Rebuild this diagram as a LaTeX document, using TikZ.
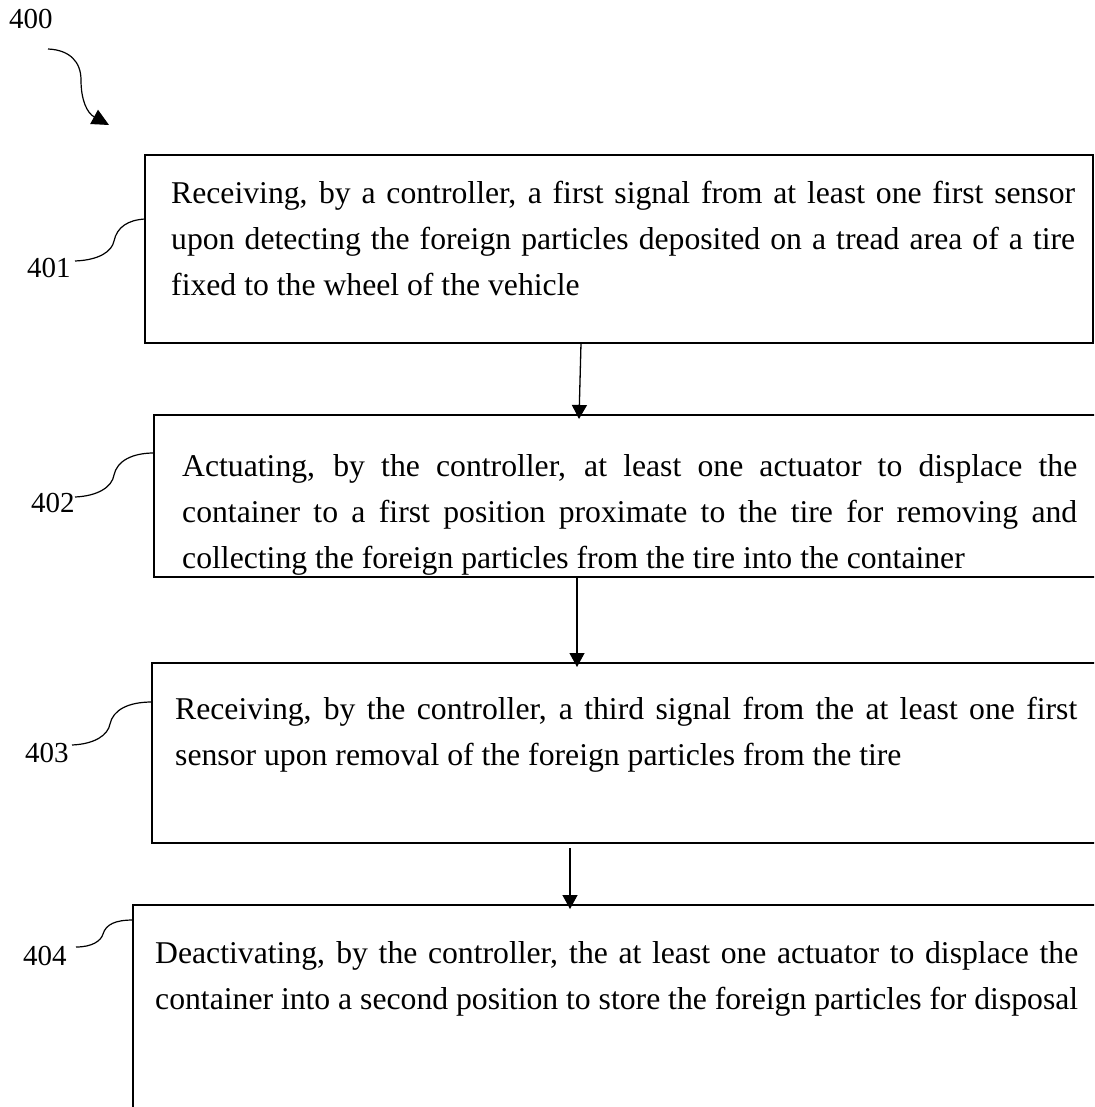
\documentclass[tikz,border=0pt]{standalone}
\usepackage{fontspec}
\setmainfont{Liberation Serif}
\usetikzlibrary{arrows.meta}
\tikzset{
 box/.style={draw, line width=2.8pt, inner sep=0pt, outer sep=0pt, anchor=north west},
 flow/.style={line width=1.3pt, -{Triangle[length=14pt,width=15pt]}},
 leader/.style={line width=1.2pt},
 lbl/.style={anchor=base west, inner sep=0pt, font=\fontsize{29}{34}\selectfont},
 body/.style={anchor=base west, inner sep=0pt, font=\fontsize{31.7}{46}\selectfont},
}
\newcommand{\jline}[2]{\makebox[#1][s]{#2}}
\begin{document}
\begin{tikzpicture}[x=1pt,y=-1pt]
\fill[white] (0,0) rectangle (1094,1107);
\clip (0,0) rectangle (1094,1107);

% boxes
\node[box, minimum width=948pt, minimum height=188pt] (b1) at (145,155) {};
\node[box, minimum width=960pt, minimum height=162pt] (b2) at (154,415) {};
\node[box, minimum width=960pt, minimum height=180pt] (b3) at (152,663) {};
\node[box, minimum width=980pt, minimum height=230pt] (b4) at (133,905) {};

% texts
\node[body] (t1) at (171,204) {\parbox[t]{904pt}{%
\jline{904pt}{Receiving, by a controller, a first signal from at least one first sensor}\\
\jline{904pt}{upon detecting the foreign particles deposited on a tread area of a tire}\\
fixed to the wheel of the vehicle}};
\begin{scope}
\clip (154,415) rectangle (1094,574);
\node[body] (t2) at (182,476) {\parbox[t]{895pt}{%
\jline{895pt}{Actuating, by the controller, at least one actuator to displace the}\\
\jline{895pt}{container to a first position proximate to the tire for removing and}\\
collecting the foreign particles from the tire into the container}};
\end{scope}
\node[body] (t3) at (175,719) {\parbox[t]{902pt}{%
\jline{902pt}{Receiving, by the controller, a third signal from the at least one first}\\
sensor upon removal of the foreign particles from the tire}};
\node[body] (t4) at (155,963) {\parbox[t]{923pt}{%
\jline{923pt}{Deactivating, by the controller, the at least one actuator to displace the}\\
container into a second position to store the foreign particles for disposal}};

% labels
\node[lbl] (l400) at (9,29) {400};
\node[lbl] (l401) at (27,277) {401};
\node[lbl] (l402) at (31,512) {402};
\node[lbl] (l403) at (25,762) {403};
\node[lbl] (l404) at (23,965) {404};

% leader coordinates
\coordinate (s400) at (48,49);
\coordinate (e400) at (109,125);
\coordinate (s401) at (75,261);
\coordinate (e401) at (145,219);
\coordinate (s402) at (75,497);
\coordinate (e402) at (154,453);
\coordinate (s403) at (72,745);
\coordinate (e403) at (152,702);
\coordinate (s404) at (76,947);
\coordinate (e404) at (133,920);

\draw[leader, -{Triangle[length=17pt,width=16pt]}] (s400) .. controls (70,50) and (81,62) .. (81,80) .. controls (81,100) and (87,113) .. (e400);
\draw[leader] (s401) .. controls (100,260) and (112,251) .. (114,241) .. controls (117,227) and (128,220) .. (e401);
\draw[leader] (s402) .. controls (98,496) and (112,487) .. (114,475) .. controls (117,461) and (132,453) .. (e402);
\draw[leader] (s403) .. controls (95,744) and (108,735) .. (110,724) .. controls (113,710) and (128,702) .. (e403);
\draw[leader] (s404) .. controls (92,947) and (101,941) .. (103,934) .. controls (106,924) and (116,920) .. (e404);

% flow arrows
\coordinate (a1s) at (581,343);
\coordinate (a1e) at (579,419);
\coordinate (a2s) at (577,578);
\coordinate (a2e) at (577,667);
\coordinate (a3s) at (570,848);
\coordinate (a3e) at (570,909);
\draw[flow] (a1s) -- (a1e);
\draw[flow] (a2s) -- (a2e);
\draw[flow] (a3s) -- (a3e);
\end{tikzpicture}
\end{document}
